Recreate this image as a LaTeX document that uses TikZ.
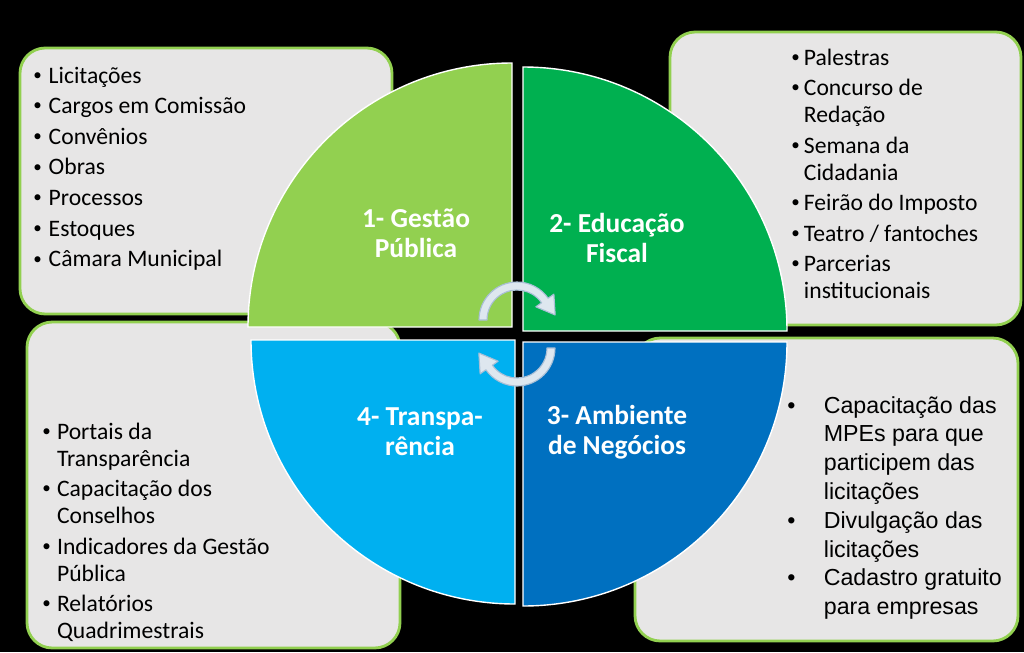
\documentclass[tikz,border=0pt]{standalone}
\usepackage{fontspec}
\setmainfont{Carlito}
\newfontfamily\arialfont{Liberation Sans}
\usetikzlibrary{positioning}
\definecolor{gpgreen}{HTML}{92D050}
\definecolor{efgreen}{HTML}{00B050}
\definecolor{anblue}{HTML}{0070C0}
\definecolor{trblue}{HTML}{00B0F0}
\definecolor{boxgray}{HTML}{E7E6E6}
\definecolor{cyclefill}{HTML}{DEE7EF}
\definecolor{cycleline}{HTML}{A9BFD6}
\newcommand{\blt}{\raisebox{0.12em}{\scalebox{0.72}{\textbullet}}}

\begin{document}
\begin{tikzpicture}[x=0.025cm, y=-0.025cm,
    box/.style={draw=gpgreen, fill=boxgray, line width=2pt, rounded corners=18pt},
    slice/.style={draw=white, line width=1pt},
    title/.style={text=white, align=center, font=\fontsize{19.5}{21.5}\selectfont\bfseries},
    lst/.style={anchor=base west, inner sep=0pt, font=\fontsize{16.8}{19.2}\selectfont},
    cyc/.style={fill=cyclefill, draw=cycleline, line width=0.8pt, line join=round}]
    \fill[black] (0,0) rectangle (1024,652);
    \useasboundingbox (0,0) rectangle (1024,652);

    \draw[box] (20,48) rectangle (392,314);
    \draw[box] (670,32) rectangle (1021,325);
    \draw[box] (27,322) rectangle (400,648);
    \draw[box] (635,338) rectangle (1018,641);

    \node[lst] (gplist) at (33,83) {\begin{tabular}[t]{@{}p{11pt}@{}l@{}}
        \blt & Licitações\\[2.6pt]
        \blt & Cargos em Comissão\\[2.6pt]
        \blt & Convênios\\[2.6pt]
        \blt & Obras\\[2.6pt]
        \blt & Processos\\[2.6pt]
        \blt & Estoques\\[2.6pt]
        \blt & Câmara Municipal
    \end{tabular}};
    \node[lst] (eflist) at (791,65) {\begin{tabular}[t]{@{}p{9pt}@{}l@{}}
        \blt & Palestras\\[2.5pt]
        \blt & Concurso de\\
             & Redação\\[2.5pt]
        \blt & Semana da\\
             & Cidadania\\[2.5pt]
        \blt & Feirão do Imposto\\[2.5pt]
        \blt & Teatro / fantoches\\[2.5pt]
        \blt & Parcerias\\
             & institucionais
    \end{tabular}};
    \node[lst] (trlist) at (42,439) {\begin{tabular}[t]{@{}p{10.5pt}@{}l@{}}
        \blt & Portais da\\
             & Transparência\\[2.5pt]
        \blt & Capacitação dos\\
             & Conselhos\\[2.5pt]
        \blt & Indicadores da Gestão\\
             & Pública\\[2.5pt]
        \blt & Relatórios\\
             & Quadrimestrais
    \end{tabular}};
    \node[lst, font=\arialfont\fontsize{16.5}{20.5}\selectfont] (anlist) at (787,413) {\begin{tabular}[t]{@{}p{26pt}@{}l@{}}
        \textbullet & Capacitação das\\
                    & MPEs para que\\
                    & participem das\\
                    & licitações\\
        \textbullet & Divulgação das\\
                    & licitações\\
        \textbullet & Cadastro gratuito\\
                    & para empresas
    \end{tabular}};

    \filldraw[slice, fill=gpgreen] (512,327) -- ++(180:264) arc (180:270:264) -- cycle;
    \filldraw[slice, fill=efgreen] (523,331) -- ++(270:264) arc (270:360:264) -- cycle;
    \filldraw[slice, fill=anblue] (523,342) -- ++(0:264) arc (0:90:264) -- cycle;
    \filldraw[slice, fill=trblue] (515,340) -- ++(90:264) arc (90:180:264) -- cycle;

    \node[title] (gptitle) at (416,233) {1- Gestão\\Pública};
    \node[title] (eftitle) at (617,238) {2- Educação\\Fiscal};
    \node[title] (antitle) at (617,432) {3- Ambiente\\de Negócios};
    \node[title] (trtitle) at (420,432) {4- Transpa-\\rência};

    \begin{scope}[shift={(517,320)}]
        \filldraw[cyc] (180:38) arc (180:325:38) -- (325:45) -- (352.5:38.5) -- (325:23) -- (325:30) arc (325:180:30) -- cycle;
    \end{scope}
    \begin{scope}[shift={(517,348)}]
        \filldraw[cyc] (0:38) arc (0:145:38) -- (145:45) -- (172.5:38.5) -- (145:23) -- (145:30) arc (145:0:30) -- cycle;
    \end{scope}
\end{tikzpicture}
\end{document}
